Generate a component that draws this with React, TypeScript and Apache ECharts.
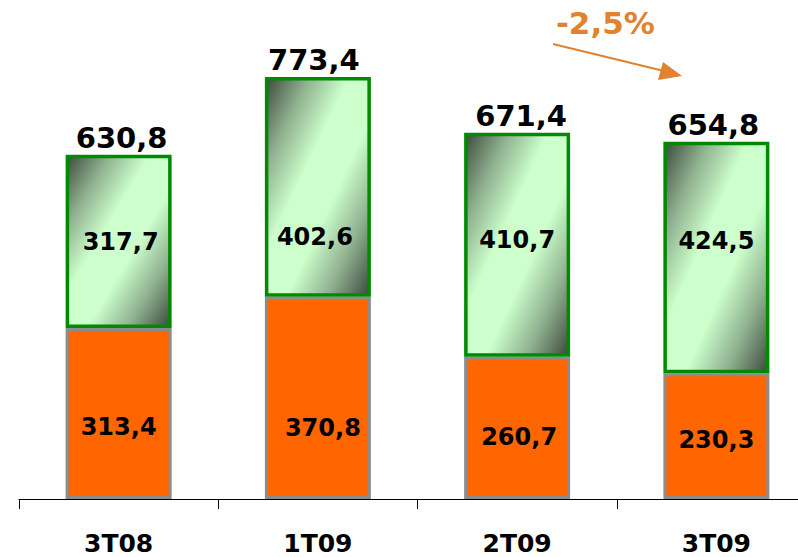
import React, { useEffect, useRef } from "react";
import * as echarts from "echarts";

const categories = ["3T08", "1T09", "2T09", "3T09"];
const orangeValues = [313.4, 370.8, 260.7, 230.3];
const greenValues = [317.7, 402.6, 410.7, 424.5];
const totalValues = [630.8, 773.4, 671.4, 654.8];
const changeLabel = "-2,5%";

const orangeLabelOffsets = [[0, 13], [5, 30], [2, 9], [0, 4]];
const greenLabelOffsets = [[2, 1], [-3, 50], [0, -5], [0, -17]];
const totalLabelOffsets = [[3, 0], [-4, 0], [4, 0], [-3, 0]];

const fmt = (v: number) => v.toFixed(1).replace(".", ",");
const FONT = "DejaVu Sans";

export default function App() {
  const ref = useRef<HTMLDivElement>(null);
  useEffect(() => {
    if (!ref.current) return;
    const chart = echarts.init(ref.current, null, { renderer: "svg" });
    const greenGrad = new echarts.graphic.LinearGradient(0, 0, 1, 1, [
      { offset: 0, color: "#3e4a3e" },
      { offset: 0.2, color: "#8fb08f" },
      { offset: 0.4, color: "#ccffcc" },
      { offset: 0.6, color: "#ccffcc" },
      { offset: 0.8, color: "#8fb08f" },
      { offset: 1, color: "#3e4a3e" },
    ]);
    chart.setOption({
      animation: false,
      grid: { left: 19, top: 8, right: 0, bottom: 58, containLabel: false },
      xAxis: {
        type: "category",
        data: categories,
        boundaryGap: true,
        axisLine: { lineStyle: { color: "#000", width: 1 } },
        axisTick: { show: true, length: 10, lineStyle: { color: "#000" } },
        axisLabel: {
          margin: 32,
          color: "#000",
          fontFamily: FONT,
          fontWeight: "bold",
          fontSize: 25,
        },
      },
      yAxis: { type: "value", min: 0, max: 900, show: false, splitLine: { show: false } },
      series: [
        {
          type: "bar",
          stack: "s",
          barWidth: 106,
          data: orangeValues.map((v, i) => ({
            value: v,
            label: { offset: orangeLabelOffsets[i] },
          })),
          itemStyle: { color: "#ff6600", borderColor: "#8c8c8c", borderWidth: 3 },
          label: {
            show: true,
            position: "inside",
            color: "#000",
            fontFamily: FONT,
            fontWeight: "bold",
            fontSize: 24,
            formatter: (p: any) => fmt(p.value),
          },
        },
        {
          type: "bar",
          stack: "s",
          barWidth: 106,
          data: greenValues.map((v, i) => ({
            value: v,
            label: { offset: greenLabelOffsets[i] },
          })),
          itemStyle: { color: greenGrad, borderColor: "#008a00", borderWidth: 3.5 },
          label: {
            show: true,
            position: "inside",
            color: "#000",
            fontFamily: FONT,
            fontWeight: "bold",
            fontSize: 24,
            formatter: (p: any) => fmt(p.value),
          },
        },
        {
          type: "scatter",
          data: totalValues.map((v, i) => ({
            value: v,
            label: { offset: totalLabelOffsets[i] },
          })),
          symbol: "circle",
          symbolSize: 1,
          itemStyle: { color: "rgba(0,0,0,0)", opacity: 1 },
          z: 10,
          label: {
            show: true,
            position: "top",
            distance: 2,
            color: "#000",
            opacity: 1,
            fontFamily: FONT,
            fontWeight: "bold",
            fontSize: 29,
            formatter: (p: any) => fmt(p.value),
          },
        },
      ],
      graphic: [
        {
          type: "line",
          shape: { x1: 553, y1: 44, x2: 664, y2: 71 },
          style: { stroke: "#e08230", lineWidth: 2 },
        },
        {
          type: "polygon",
          shape: { points: [[682, 76], [658, 80], [663, 62]] },
          style: { fill: "#e08230" },
        },
        {
          type: "text",
          x: 556,
          y: 23,
          style: {
            text: changeLabel,
            fill: "#e08230",
            font: `bold 31px "${FONT}"`,
            textAlign: "left",
            textVerticalAlign: "middle",
          },
        },
      ],
    });
    return () => chart.dispose();
  }, []);
  return (
    <div
      style={{
        position: "fixed",
        left: 0,
        top: 0,
        width: 798,
        height: 557,
        overflow: "hidden",
        background: "#fff",
      }}
    >
      <div ref={ref} style={{ width: 816, height: 557 }} />
    </div>
  );
}
